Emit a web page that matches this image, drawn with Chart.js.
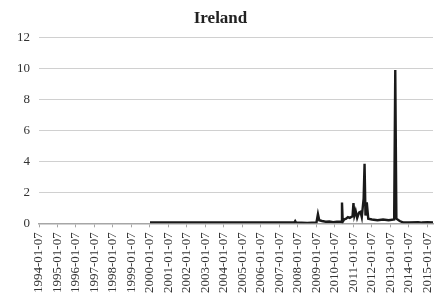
<!DOCTYPE html>
<html>
<head>
<meta charset="utf-8">
<script src="https://cdn.jsdelivr.net/npm/chart.js@4.4.0/dist/chart.umd.min.js"></script>
<style>
  html, body { margin: 0; padding: 0; background: #fff; }
  #wrap { width: 435px; height: 298px; }
</style>
</head>
<body>
<div id="wrap"><canvas id="irelandChart"></canvas></div>
<script>
// decimal years (1994.0 = 1994-01-07) and the values
const years = [
    2000.0, 2004.2, 2007.8, 2007.85, 2007.9, 2008.5, 2009.0, 2009.08, 2009.15, 2009.3, 2009.5, 2009.7, 2009.9,
    2010.1, 2010.35, 2010.38, 2010.42, 2010.5, 2010.6, 2010.7, 2010.8, 2010.95, 2011.0, 2011.05,
    2011.12, 2011.2, 2011.3, 2011.38, 2011.45, 2011.55, 2011.6, 2011.65, 2011.72, 2011.8,
    2012.0, 2012.3, 2012.6, 2012.9, 2013.2, 2013.26, 2013.32, 2013.5, 2013.7, 2014.0,
    2014.5, 2014.7, 2015.0, 2015.3
];
const values = [
    0.05, 0.05, 0.05, 0.15, 0.05, 0.03, 0.05, 0.6, 0.2, 0.15, 0.1, 0.12, 0.08,
    0.1, 0.1, 1.35, 0.1, 0.25, 0.3, 0.4, 0.35, 0.45, 1.3, 0.5,
    0.8, 0.35, 0.7, 0.75, 0.4, 1.6, 3.85, 0.5, 1.35, 0.3,
    0.25, 0.2, 0.25, 0.2, 0.25, 9.9, 0.3, 0.15, 0.05, 0.05,
    0.08, 0.05, 0.07, 0.05
];
const yTicks = [0, 2, 4, 6, 8, 10, 12];
const tickSuffix = '-01-07';

const points = years.map((x, i) => ({ x: x, y: values[i] }));

const ctx = document.getElementById('irelandChart').getContext('2d');
new Chart(ctx, {
    type: 'line',
    data: {
        datasets: [{
            label: 'Ireland',
            data: points,
            borderColor: '#1a1a1a',
            borderWidth: 2.4,
            pointRadius: 0,
            tension: 0,
            fill: false
        }]
    },
    options: {
        responsive: true,
        maintainAspectRatio: false,
        animation: false,
        layout: { padding: { left: 8, right: 2, top: 0, bottom: 0 } },
        plugins: {
            legend: { display: false },
            tooltip: { enabled: false },
            title: {
                display: true,
                text: 'Ireland',
                color: '#222',
                font: { family: 'Liberation Serif', size: 17, weight: 'bold' },
                padding: { top: 8, bottom: 9 }
            }
        },
        scales: {
            x: {
                type: 'linear',
                min: 1994,
                max: 2015.3,
                afterFit: scale => { scale.paddingRight = 0; scale.paddingLeft = 0; },
                grid: { drawOnChartArea: false, drawTicks: true, tickLength: 4, color: '#a6a6a6' },
                border: { color: '#a6a6a6', width: 1.5 },
                ticks: {
                    stepSize: 1,
                    includeBounds: false,
                    autoSkip: false,
                    minRotation: 90,
                    maxRotation: 90,
                    padding: 5,
                    color: '#333',
                    font: { family: 'Liberation Serif', size: 13 },
                    callback: v => Math.round(v) + tickSuffix
                }
            },
            y: {
                min: yTicks[0],
                max: yTicks[yTicks.length - 1],
                afterBuildTicks: axis => { axis.ticks = yTicks.map(v => ({ value: v })); },
                grid: { color: '#d0d0d0', drawTicks: false, lineWidth: 1 },
                border: { display: false },
                ticks: {
                    padding: 9,
                    color: '#333',
                    font: { family: 'Liberation Serif', size: 13 }
                }
            }
        }
    }
});
</script>
</body>
</html>
